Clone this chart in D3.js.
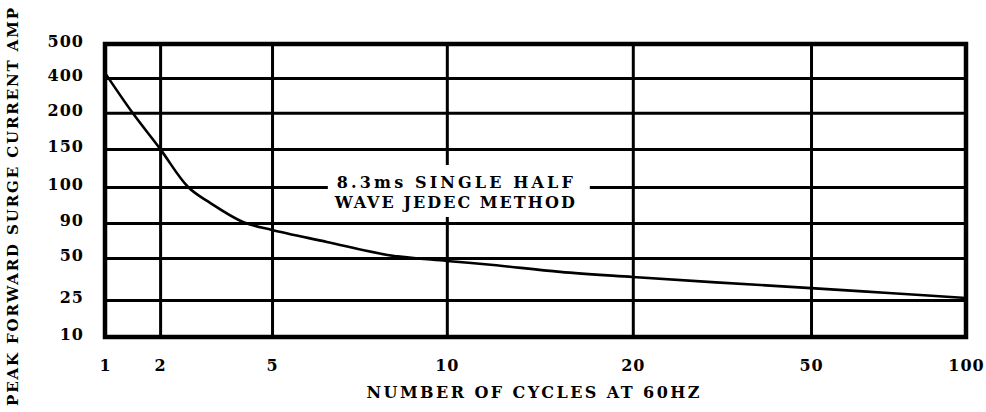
<!DOCTYPE html>
<html><head><meta charset="utf-8">
<script src="https://cdn.jsdelivr.net/npm/d3@7"></script>
<style>body{margin:0;background:#fff}svg{display:block}</style>
</head><body><svg id="c" width="986" height="412"></svg>
<script>
const xTicks = [1, 2, 5, 10, 20, 50, 100];
const yTicks = [500, 400, 200, 150, 100, 90, 50, 25, 10];
const cycles = [1, 1.5, 2, 2.75, 3.34, 4.22, 5, 6.57, 8.3, 10, 12.5, 16.1, 20, 34, 50, 75, 100];
const surge  = [415, 200, 150, 100, 95.6, 90.3, 82, 68.3, 53.4, 48.2, 45.8, 41.7, 38.7, 35.5, 32.1, 29.2, 26.2];
const xTitle = "NUMBER OF CYCLES AT 60HZ";
const yTitle = "PEAK FORWARD SURGE CURRENT AMP";
const note = ["8.3ms SINGLE HALF", "WAVE JEDEC METHOD"];

const svg = d3.select("#c");
const m = {l: 105, t: 44, r: 20, b: 75};
const W = 986, H = 412;
const w = W - m.l - m.r, h = H - m.t - m.b;
const font = "'DejaVu Serif', serif";

// Non-uniform (hand-drawn) axes: piecewise scales through the tick values
const xFrac = [0, 0.064, 0.194, 0.397, 0.613, 0.820, 1];
const yFrac = [0, 0.116, 0.235, 0.358, 0.488, 0.611, 0.730, 0.874, 1];
const x = d3.scaleLinear().domain(xTicks).range(xFrac.map(f => f * w));
const y = d3.scaleLinear().domain(yTicks).range(yFrac.map(f => f * h));

const g = svg.append("g").attr("transform", `translate(${m.l},${m.t})`);

const gx = g.append("g").attr("transform", `translate(0,${h})`)
  .call(d3.axisBottom(x).tickValues(xTicks).tickSize(-h).tickPadding(23).tickFormat(d3.format("d")));
const gy = g.append("g")
  .call(d3.axisLeft(y).tickValues(yTicks).tickSize(-w).tickPadding(21).tickFormat(d3.format("d")));
[gx, gy].forEach(a => {
  a.select(".domain").remove();
  a.selectAll(".tick line").attr("stroke", "#000").attr("stroke-width", 3);
  a.selectAll(".tick text").attr("fill", "#000").attr("font-family", font)
    .attr("font-weight", "bold").attr("font-size", 16).attr("letter-spacing", 1);
});
gy.selectAll(".tick text").attr("dy", "0.15em");

// annotation background (hides grid behind the note)
const nx = x(10) + 8;
g.append("rect").attr("x", nx - 127).attr("y", y(100) - 22).attr("width", 262).attr("height", 52).attr("fill", "#fff");

// curve
const pts = cycles.map((c, i) => [x(c), y(surge[i])]);
g.append("path").datum(pts)
  .attr("d", d3.line().curve(d3.curveCatmullRom.alpha(0.5)))
  .attr("fill", "none").attr("stroke", "#000").attr("stroke-width", 2.6);

// frame
g.append("rect").attr("x", 0).attr("y", 0).attr("width", w).attr("height", h)
  .attr("fill", "none").attr("stroke", "#000").attr("stroke-width", 4.5);

// note text
note.forEach((t, i) => {
  g.append("text").attr("x", nx).attr("y", y(100) + 1 + i * 20)
    .attr("text-anchor", "middle").attr("font-family", font).attr("font-weight", "bold")
    .attr("font-size", 16).attr("textLength", i === 0 ? 236 : 240).attr("lengthAdjust", "spacing")
    .text(t);
});

// axis titles
svg.append("text").attr("x", 533).attr("y", 398).attr("text-anchor", "middle")
  .attr("font-family", font).attr("font-weight", "bold").attr("font-size", 16)
  .attr("textLength", 333).attr("lengthAdjust", "spacing").text(xTitle);
svg.append("text").attr("transform", "translate(18,207) rotate(-90)").attr("text-anchor", "middle")
  .attr("font-family", font).attr("font-weight", "bold").attr("font-size", 15)
  .attr("textLength", 398).attr("lengthAdjust", "spacing").text(yTitle);
</script>
</body></html>
